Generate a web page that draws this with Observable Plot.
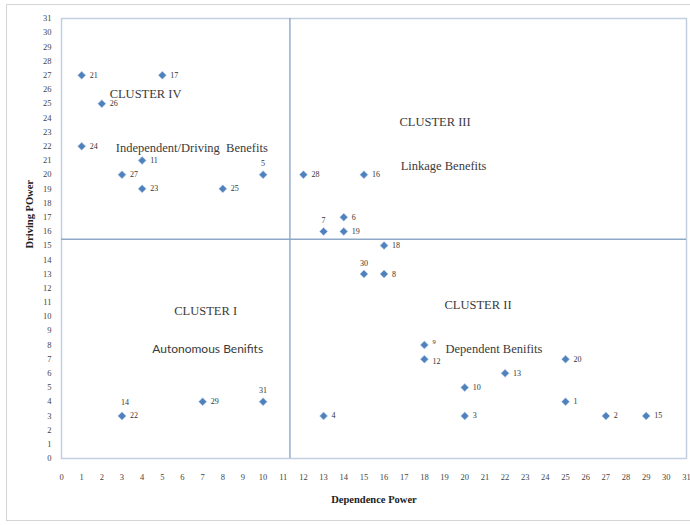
<!DOCTYPE html>
<html>
<head>
<meta charset="utf-8">
<script src="https://cdn.jsdelivr.net/npm/d3@7"></script>
<script src="https://cdn.jsdelivr.net/npm/@observablehq/plot@0.6"></script>
<style>
  html, body { margin: 0; padding: 0; background: #fff; overflow: hidden; }
  #wrap { position: relative; width: 690px; height: 525px; }
  #outer { position: absolute; left: 6px; top: 4px; width: 700px; height: 517px;
           border: 1.5px solid #d4d4d4; box-sizing: border-box; pointer-events: none; }
</style>
</head>
<body>
<div id="wrap"><div id="outer"></div></div>
<script>
// Benefit ids with dependence power (x) and driving power (y)
const ids        = [21, 17, 26, 24, 11, 27, 23, 25, 5, 28, 16, 7, 6, 19, 18, 30, 8, 9, 12, 20, 13, 10, 1, 3, 4, 2, 15, 14, 22, 29, 31];
const dependence = [ 1,  5,  2,  1,  4,  3,  4,  8, 10, 12, 15, 13, 14, 14, 16, 15, 16, 18, 18, 25, 22, 20, 25, 20, 13, 27, 29, 3, 3, 7, 10];
const driving    = [27, 27, 25, 22, 21, 20, 19, 19, 20, 20, 20, 16, 17, 16, 15, 13, 13, 8, 7, 7, 6, 5, 4, 3, 3, 3, 3, 3, 3, 4, 4];

// ids whose labels sit above the marker
const labelAbove = [5, 7, 30, 31];

// quadrant dividing lines (data units)
const dividerX = [11.33];
const dividerY = [15.45];

// cluster annotations
const annoText = ["CLUSTER IV", "Independent/Driving  Benefits", "CLUSTER III", "Linkage Benefits", "CLUSTER I", "CLUSTER II", "Dependent Benifits"];
const annoX    = [4.17, 6.46, 18.53, 18.95, 7.15, 20.66, 21.45];
const annoY    = [25.7, 21.9, 23.7, 20.6, 10.4, 10.8, 7.7];
const annoSansText = ["Autonomous Benifits"];
const annoSansX = [7.25];
const annoSansY = [7.7];

const xTicks = d3.range(0, 32);
const yTicks = d3.range(0, 32);

const points = ids.map((id, i) => ({id, x: dependence[i], y: driving[i]}));
const rightPts = points.filter(d => !labelAbove.includes(d.id) && ![9, 12, 14].includes(d.id));
const abovePts = points.filter(d => labelAbove.includes(d.id));
const annos = annoText.map((t, i) => ({t, x: annoX[i], y: annoY[i]}));
const annosSans = annoSansText.map((t, i) => ({t, x: annoSansX[i], y: annoSansY[i]}));

const chart = Plot.plot({
  width: 690,
  height: 525,
  marginLeft: 61,
  marginRight: 4,
  marginTop: 18,
  marginBottom: 67,
  style: {fontFamily: "Liberation Serif", fontSize: "8.5px", background: "transparent"},
  x: {domain: [0, 31]},
  y: {domain: [0, 31]},
  axis: null,
  marks: [
    Plot.frame({stroke: "#c3cfde", strokeWidth: 1.5}),
    Plot.ruleX(dividerX, {stroke: "#8ea8c8", strokeWidth: 1.4}),
    Plot.ruleY(dividerY, {stroke: "#8ea8c8", strokeWidth: 1.4}),
    Plot.axisX({ticks: xTicks, tickSize: 0, tickPadding: 15, tickFormat: d => d, color: "#444", fontSize: 8.5, label: null}),
    Plot.axisY({ticks: yTicks, tickSize: 0, tickPadding: 10, tickFormat: d => d, color: "#444", fontSize: 8.5, label: null}),
    Plot.text(["Dependence Power"], {frameAnchor: "bottom", dy: 44, fontWeight: "bold", fontSize: 10.5, fill: "#222"}),
    Plot.text(["Driving POwer"], {frameAnchor: "left", dx: -32, dy: 10, rotate: -90, fontWeight: "bold", fontSize: 10.5, fill: "#222"}),
    Plot.dot(points, {x: "x", y: "y", symbol: "diamond2", r: 3.6, fill: "#4f81bd", stroke: "#b9cde6", strokeWidth: 0.6}),
    Plot.text(rightPts, {x: "x", y: "y", text: "id", textAnchor: "start", dx: 8, fontSize: 8, fill: "#333"}),
    Plot.text(abovePts, {x: "x", y: "y", text: "id", dy: -11, fontSize: 8, fill: "#333"}),
    Plot.text(points.filter(d => d.id === 14), {x: "x", y: "y", text: "id", dy: -13, dx: 3, fontSize: 8, fill: "#333"}),
    Plot.text(points.filter(d => d.id === 9), {x: "x", y: "y", text: "id", textAnchor: "start", dx: 8, dy: -3, fontSize: 6.5, fill: "#333"}),
    Plot.text(points.filter(d => d.id === 12), {x: "x", y: "y", text: "id", textAnchor: "start", dx: 8, dy: 2, fontSize: 8, fill: "#333"}),
    Plot.text(annos, {x: "x", y: "y", text: "t", fontSize: 12.5, fill: "#3a3a3a"}),
    Plot.text(annosSans, {x: "x", y: "y", text: "t", fontSize: 12, fontFamily: "Lato", fill: "#3a3a3a"})
  ]
});
document.getElementById("wrap").prepend(chart);
</script>
</body>
</html>
